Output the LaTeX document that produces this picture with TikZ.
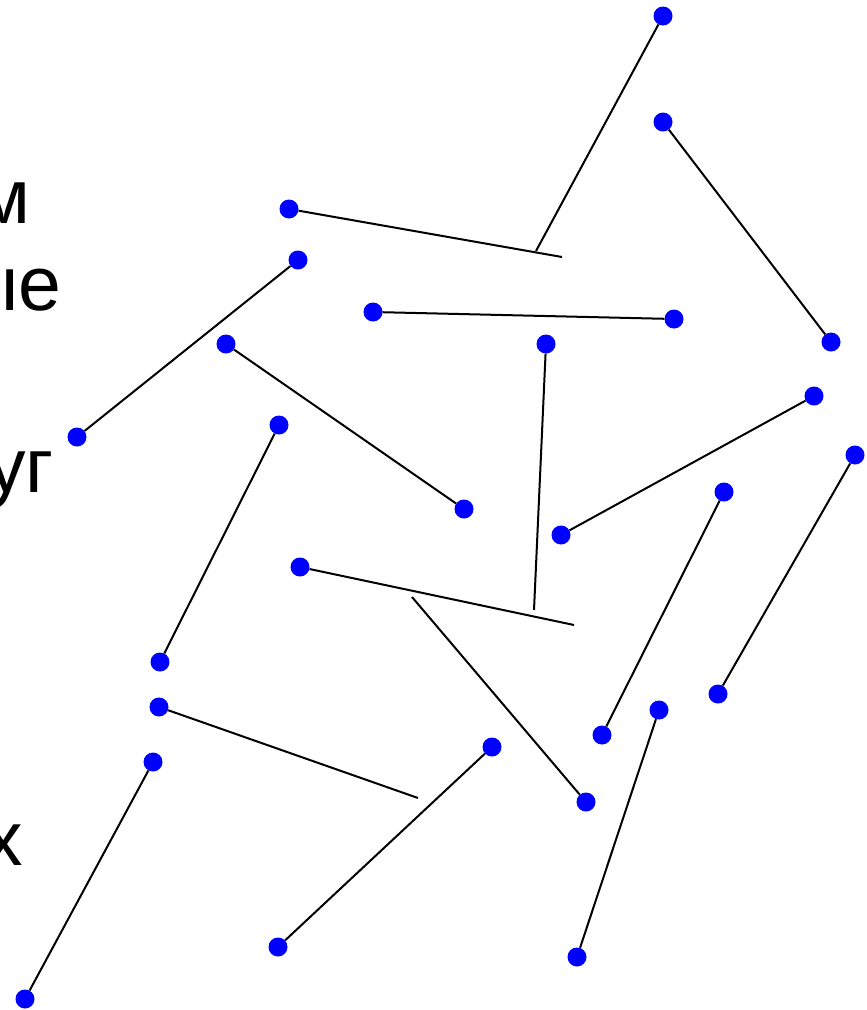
\documentclass[tikz,border=0pt]{standalone}
\usepackage{fontspec}
\setmainfont{Liberation Sans}
\usepackage{tikz}
\usetikzlibrary{positioning}
\definecolor{myblue}{RGB}{0,0,255}
\definecolor{mydark}{RGB}{0,0,0}
\tikzset{
  endpt/.style={circle, fill=myblue, draw=none, minimum size=19pt,
    inner sep=0pt},
  segline/.style={line width=2pt, color=mydark},
  cuttext/.style={anchor=base east, inner sep=0pt,
    font=\fontsize{77}{92}\selectfont}
}
\begin{document}
\begin{tikzpicture}[x=1pt, y=-1pt]
  \useasboundingbox (0,0) rectangle (867,1010);

  % cut-off words at the left edge
  \node[cuttext] (w1) at (31,223) {м};
  \node[cuttext] (w2) at (62,310) {ые};
  \node[cuttext] (w3) at (54,492) {уг};
  \node[cuttext] (w4) at (23,865) {х};

  % end points
  \node[endpt] (a1) at (663,16) {};
  \coordinate (a2) at (536,251);
  \node[endpt] (b1) at (289,209) {};
  \coordinate (b2) at (562,257);
  \node[endpt] (c1) at (663,122) {};
  \node[endpt] (c2) at (831,342) {};
  \node[endpt] (d1) at (298,260) {};
  \node[endpt] (d2) at (77,437) {};
  \node[endpt] (e1) at (373,312) {};
  \node[endpt] (e2) at (674,319) {};
  \node[endpt] (f1) at (546,344) {};
  \coordinate (f2) at (534,610);
  \node[endpt] (g1) at (226,344) {};
  \node[endpt] (g2) at (464,509) {};
  \node[endpt] (h1) at (814,396) {};
  \node[endpt] (h2) at (561,535) {};
  \node[endpt] (i1) at (855,455) {};
  \node[endpt] (i2) at (718,694) {};
  \node[endpt] (j1) at (279,425) {};
  \node[endpt] (j2) at (160,662) {};
  \node[endpt] (k1) at (724,492) {};
  \node[endpt] (k2) at (602,735) {};
  \node[endpt] (l1) at (300,567) {};
  \coordinate (l2) at (574,625);
  \coordinate (m1) at (412,597);
  \node[endpt] (m2) at (586,802) {};
  \node[endpt] (n1) at (159,707) {};
  \coordinate (n2) at (418,798);
  \node[endpt] (o1) at (492,747) {};
  \node[endpt] (o2) at (278,947) {};
  \node[endpt] (p1) at (659,710) {};
  \node[endpt] (p2) at (577,957) {};
  \node[endpt] (q1) at (153,762) {};
  \node[endpt] (q2) at (25,999) {};

  % segments
  \draw[segline] (a1) -- (a2);
  \draw[segline] (b1) -- (b2);
  \draw[segline] (c1) -- (c2);
  \draw[segline] (d1) -- (d2);
  \draw[segline] (e1) -- (e2);
  \draw[segline] (f1) -- (f2);
  \draw[segline] (g1) -- (g2);
  \draw[segline] (h1) -- (h2);
  \draw[segline] (i1) -- (i2);
  \draw[segline] (j1) -- (j2);
  \draw[segline] (k1) -- (k2);
  \draw[segline] (l1) -- (l2);
  \draw[segline] (m1) -- (m2);
  \draw[segline] (n1) -- (n2);
  \draw[segline] (o1) -- (o2);
  \draw[segline] (p1) -- (p2);
  \draw[segline] (q1) -- (q2);
\end{tikzpicture}
\end{document}
